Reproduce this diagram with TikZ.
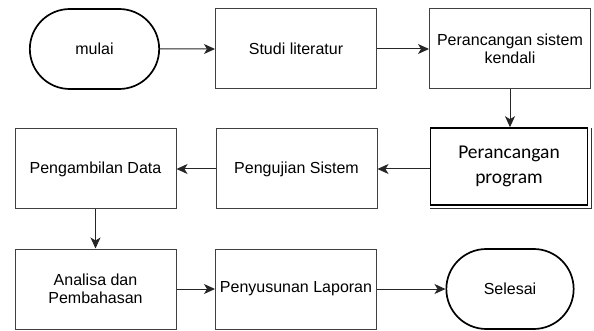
\documentclass[tikz,border=0pt]{standalone}
\usepackage{fontspec}
\setmainfont{Liberation Sans}
\newfontfamily\calibrifont{Carlito}
\usetikzlibrary{arrows.meta, shapes.misc, calc}

\begin{document}
\begin{tikzpicture}[x=1pt, y=-1pt,
    box/.style={draw=black!75, line width=1pt, minimum width=161pt, minimum height=80pt,
        align=center, inner sep=1pt, font=\fontsize{16}{18.5}\selectfont},
    terminal/.style={draw, line width=1.7pt, rounded rectangle, minimum width=136pt,
        minimum height=80pt, font=\fontsize{16}{18.5}\selectfont},
    flow/.style={-{Stealth[length=11pt, width=10pt, inset=3pt]}, line width=1pt, black!85}]
    \useasboundingbox (0,0) rectangle (594,331);

    % Row 1
    \node[terminal] (mulai) at (94.5, 49) {mulai};
    \node[box] (studi) at (296, 49) {Studi literatur};
    \node[box] (sistem) at (510, 49) {Perancangan sistem\\kendali};

    % Row 2
    \node[box, draw=black, line width=1.6pt, minimum width=157pt, minimum height=77pt,
        font=\calibrifont\fontsize{19.5}{25}\selectfont] (program) at (509, 166.5)
        {Perancangan\\program};
    \draw[black!80, line width=0.6pt] ($(program.north east)+(3,1)$)
        -- ($(program.south east)+(3,3)$)
        -- ($(program.south west)+(0,3)$);
    \node[box] (pengujian) at (296.5, 169) {Pengujian Sistem};
    \node[box] (pengambilan) at (95.5, 169) {Pengambilan Data};

    % Row 3
    \node[box] (analisa) at (95.5, 289) {Analisa dan\\Pembahasan};
    \node[box, inner sep=0pt] (penyusunan) at (296, 289) {Penyusunan Laporan};
    \node[terminal, minimum width=134pt] (selesai) at (510, 289) {Selesai};

    % Connectors
    \draw[flow] (mulai) -- (studi);
    \draw[flow] (studi) -- (sistem);
    \draw[flow] (sistem.south) -- (sistem.south |- program.north);
    \draw[flow] (program.west |- pengujian.east) -- (pengujian.east);
    \draw[flow] (pengujian) -- (pengambilan);
    \draw[flow] (pengambilan) -- (analisa);
    \draw[flow] (analisa) -- (penyusunan);
    \draw[flow] (penyusunan) -- (selesai);
\end{tikzpicture}
\end{document}
